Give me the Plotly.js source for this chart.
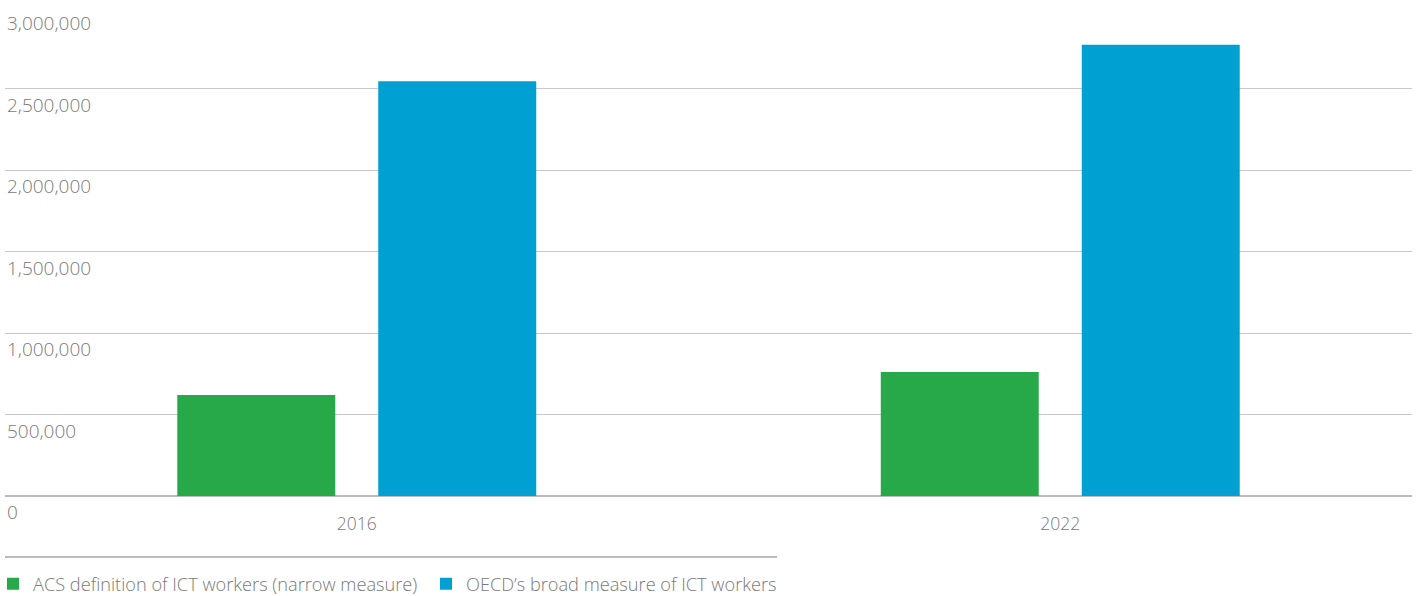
<!DOCTYPE html>
<html>
<head>
<meta charset="utf-8">
<script src="https://cdn.plot.ly/plotly-3.0.1.min.js"></script>
<style>html,body{margin:0;padding:0;background:#fff;}#chart{width:1417px;height:596px;}</style>
</head>
<body>
<div id="chart"></div>
<script>
const years = ['2016', '2022'];
const seriesNames = ['ACS definition of ICT workers (narrow measure)', "OECD’s broad measure of ICT workers"];
const acsValues = [620000, 760000];
const oecdValues = [2545000, 2768000];
const yTickVals = [0, 500000, 1000000, 1500000, 2000000, 2500000, 3000000];
const yTickText = ['0', '500,000', '1,000,000', '1,500,000', '2,000,000', '2,500,000', '3,000,000'];

const font = 'Open Sans, Noto Sans, sans-serif';
const textColor = '#7a7a7a';

const data = [
  {type: 'bar', name: seriesNames[0], x: years, y: acsValues, marker: {color: '#28a949'}},
  {type: 'bar', name: seriesNames[1], x: years, y: oecdValues, marker: {color: '#00a0d3'}}
];

const yLabelAnnotations = yTickVals.map((v, i) => ({
  xref: 'paper', yref: 'y', x: 0, y: v, xanchor: 'left', yanchor: 'middle',
  yshift: -16, xshift: 0, showarrow: false, text: yTickText[i],
  font: {family: font, size: 19, color: textColor, weight: 300}
}));

const layout = {
  width: 1417, height: 596,
  margin: {l: 5, r: 5, t: 7, b: 100, autoexpand: false},
  paper_bgcolor: '#fff', plot_bgcolor: '#fff',
  barmode: 'group', bargap: 0.4286, bargroupgap: 0.214,
  font: {family: font, color: textColor, size: 17, weight: 300},
  showlegend: true,
  legend: {orientation: 'h', xref: 'container', yref: 'container', x: 0, xanchor: 'left', y: 0.0201, yanchor: 'middle',
           indentation: -7, entrywidth: 395, font: {size: 18.2, color: textColor, weight: 300}, itemclick: false},
  xaxis: {type: 'category', range: [-0.5, 1.5], showgrid: false, zeroline: false, showline: false, ticks: '', tickfont: {size: 17.5, color: textColor, weight: 300}, ticklabelstandoff: 15},
  yaxis: {range: [0, 3000000], tickvals: yTickVals, showticklabels: false,
          showgrid: true, gridcolor: '#c8c8c8', gridwidth: 1, zeroline: true, zerolinecolor: '#bcbcbc', zerolinewidth: 1.5, showline: false, ticks: ''},
  annotations: yLabelAnnotations,
  shapes: [{type: 'line', xref: 'paper', yref: 'paper', x0: 0, x1: 0.5487, y0: -0.1247, y1: -0.1247, line: {color: '#777', width: 1}}]
};
Plotly.newPlot('chart', data, layout, {displayModeBar: false, staticPlot: true});
</script>
</body>
</html>
